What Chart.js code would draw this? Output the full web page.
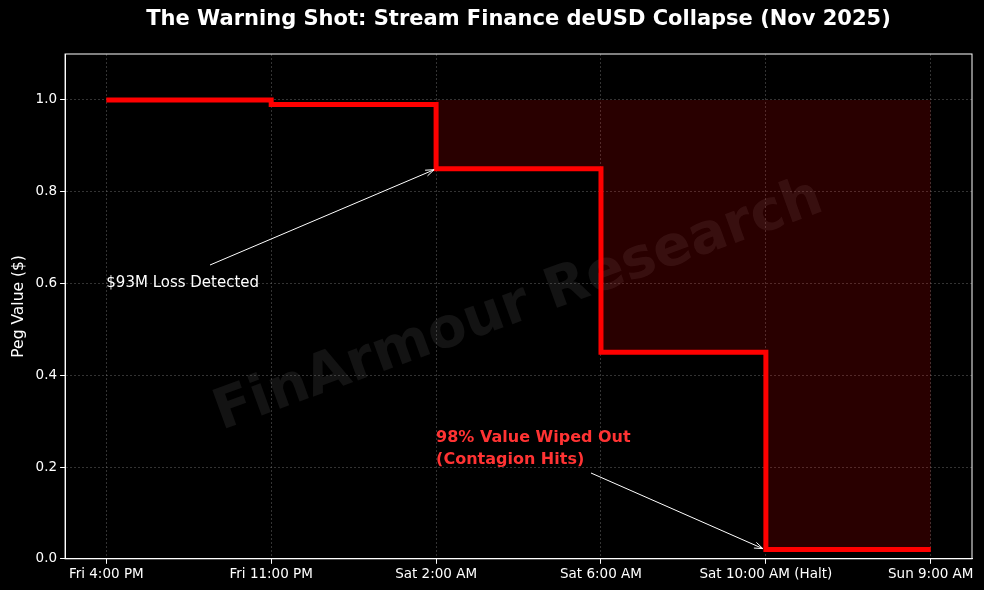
<!DOCTYPE html>
<html><head><script src="https://cdn.jsdelivr.net/npm/chart.js@4"></script>
<style>html,body{margin:0;background:#000}#w{width:984px;height:590px}</style></head>
<body><div id="w"><canvas id="c"></canvas></div>
<script>
const categories=["Fri 4:00 PM","Fri 11:00 PM","Sat 2:00 AM","Sat 6:00 AM","Sat 10:00 AM (Halt)","Sun 9:00 AM"];
const pegValues=[1.0,0.99,0.85,0.45,0.02,0.02];
const yTicks=[0,0.2,0.4,0.6,0.8,1.0];
const titleText="The Warning Shot: Stream Finance deUSD Collapse (Nov 2025)";
const F="DejaVu Sans";
const pts=pegValues.map((v,i)=>({x:i,y:v}));
const fillPts=pts.slice(2);
function arrow(ctx,x1,y1,x2,y2){ctx.beginPath();ctx.moveTo(x1,y1);ctx.lineTo(x2,y2);ctx.stroke();
 const a=Math.atan2(y2-y1,x2-x1),L=9;ctx.beginPath();ctx.moveTo(x2-L*Math.cos(a-0.35),y2-L*Math.sin(a-0.35));ctx.lineTo(x2,y2);ctx.lineTo(x2-L*Math.cos(a+0.35),y2-L*Math.sin(a+0.35));ctx.stroke();}
const ann={id:'ann',beforeDatasetsDraw(ch){const {ctx,chartArea:a}=ch;ctx.save();
 ctx.font="bold 21px "+F;ctx.fillStyle="#fff";ctx.textAlign="center";ctx.textBaseline="middle";
 ctx.fillText(titleText,(a.left+a.right)/2,20);
 ctx.translate((a.left+a.right)/2,(a.top+a.bottom)/2);ctx.rotate(-20*Math.PI/180);
 ctx.font="bold 56px "+F;ctx.fillStyle="rgba(128,128,128,0.15)";ctx.fillText("FinArmour Research",0,0);ctx.restore();},
 afterDatasetsDraw(ch){const {ctx,chartArea:ar,scales:{x,y}}=ch;ctx.save();ctx.strokeStyle="#fff";ctx.lineWidth=1;
 ctx.strokeRect(ar.left,ar.top,ar.right-ar.left,ar.bottom-ar.top);
 ctx.font="15px "+F;ctx.fillStyle="#fff";ctx.textBaseline="middle";ctx.textAlign="left";
 ctx.fillText("$93M Loss Detected",x.getPixelForValue(0),y.getPixelForValue(0.6));
 arrow(ctx,210,265,x.getPixelForValue(2)-2,y.getPixelForValue(0.85)+1);
 ctx.font="bold 16px "+F;ctx.fillStyle="#ff3333";
 ctx.fillText("98% Value Wiped Out",x.getPixelForValue(2),438);
 ctx.fillText("(Contagion Hits)",x.getPixelForValue(2),460);
 arrow(ctx,591,473,x.getPixelForValue(4)-3,y.getPixelForValue(0.02)-1);
 ctx.restore();}};
new Chart(document.getElementById('c'),{type:'line',
 data:{datasets:[
  {data:fillPts,stepped:'before',borderColor:'rgba(0,0,0,0)',borderWidth:0,pointRadius:0,fill:{value:1},backgroundColor:'rgba(255,0,0,0.16)'},
  {data:pts,stepped:'before',borderColor:'#ff0000',borderWidth:5,pointRadius:0,fill:false}]},
 options:{responsive:true,maintainAspectRatio:false,animation:false,
  layout:{padding:{left:6,right:12,top:54,bottom:4}},
  plugins:{legend:{display:false},tooltip:{enabled:false},title:{display:false}},
  scales:{
   x:{type:'linear',min:-0.25,max:5.25,afterBuildTicks(s){s.ticks=categories.map((_,i)=>({value:i}));},
    ticks:{color:'#fff',font:{family:F,size:13.5},callback:v=>categories[v],maxRotation:0,autoSkip:false},
    grid:{color:'rgba(128,128,128,0.4)',tickColor:'#fff',tickLength:5},border:{color:'#fff',dash:[2,2]}},
   y:{min:0,max:1.1,afterBuildTicks(s){s.ticks=yTicks.map(v=>({value:v}));},
    ticks:{color:'#fff',font:{family:F,size:13.5},callback:v=>v.toFixed(1)},
    title:{display:true,text:"Peg Value ($)",color:'#fff',font:{family:F,size:15.5}},
    grid:{color:'rgba(128,128,128,0.4)',tickColor:'#fff',tickLength:5},border:{color:'#fff',dash:[2,2]}}}},
 plugins:[ann]});
</script></body></html>
